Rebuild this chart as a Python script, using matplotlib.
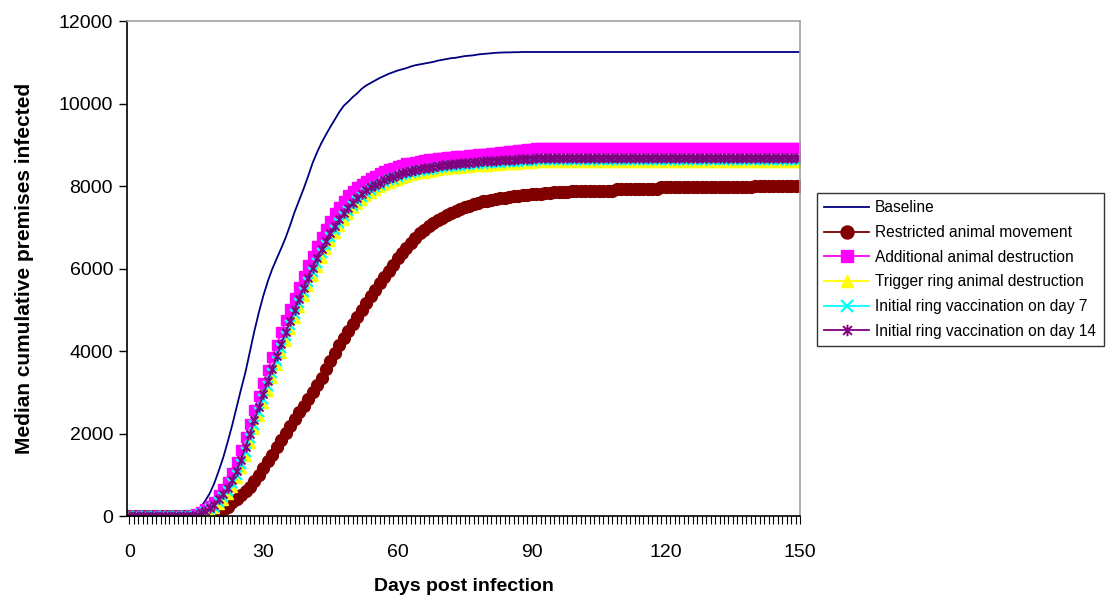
import numpy as np
import matplotlib.pyplot as plt
from matplotlib.path import Path

plt.rcParams['font.family'] = ['Liberation Sans', 'DejaVu Sans']

# daily medians, day 0 .. 150
days = list(range(151))

baseline = [0] * 15 + [
    80, 220, 380, 560, 800, 1100, 1420, 1800, 2200, 2640,
    3080, 3500, 4000, 4500, 4950, 5350, 5700, 6000, 6250, 6500,
    6760, 7060, 7380, 7660, 7940, 8240, 8560, 8820, 9050, 9250,
    9440, 9620, 9800, 9950, 10050, 10160, 10250, 10360, 10440, 10500,
    10560, 10620, 10670, 10720, 10760, 10800, 10830, 10860, 10900, 10930,
    10950, 10970, 10990, 11010, 11040, 11060, 11080, 11100, 11110, 11130,
    11150, 11160, 11170, 11190, 11200, 11210, 11220, 11230, 11235, 11240,
    11240, 11245, 11245, 11250, 11250] + [11250] * 61

restricted = [0] * 19 + [
    20, 80, 150, 240, 340, 420, 520, 620, 720, 860,
    1010, 1170, 1340, 1500, 1680, 1850, 2020, 2190, 2360, 2520,
    2680, 2850, 3020, 3180, 3360, 3560, 3760, 3960, 4150, 4330,
    4500, 4670, 4840, 5000, 5170, 5330, 5490, 5650, 5800, 5950,
    6100, 6250, 6380, 6510, 6630, 6750, 6860, 6950, 7040, 7110,
    7180, 7240, 7300, 7360, 7410, 7450, 7490, 7530, 7570, 7600,
    7640, 7650, 7670, 7690, 7705, 7720, 7735, 7750, 7760, 7775,
    7790, 7800, 7810, 7820, 7830, 7840, 7850, 7855, 7860, 7870,
    7875, 7880] + [7890] * 8 + [7930] * 10 + [7975] * 21 + [8010] * 11

additional = [0] * 15 + [
    50, 110, 180, 260, 360, 520, 660, 840, 1060, 1310,
    1600, 1920, 2250, 2580, 2910, 3230, 3550, 3860, 4160, 4460,
    4750, 5030, 5300, 5570, 5830, 6080, 6320, 6550, 6770, 6970,
    7160, 7340, 7500, 7650, 7780, 7880, 7980, 8060, 8130, 8190,
    8250, 8310, 8360, 8410, 8450, 8490, 8520, 8550, 8570, 8590,
    8610, 8630, 8650, 8665, 8680, 8690, 8700, 8710, 8720, 8730,
    8740, 8750, 8760, 8770, 8780, 8790, 8800, 8810, 8820, 8830,
    8850, 8860, 8870, 8880, 8890, 8895] + [8920] * 60

trigger = [0] * 15 + [
    10, 40, 80, 130, 200, 300, 410, 540, 720, 920,
    1170, 1460, 1780, 2110, 2430, 2740, 3050, 3360, 3660, 3960,
    4250, 4530, 4800, 5070, 5330, 5580, 5820, 6050, 6270, 6480,
    6680, 6860, 7030, 7190, 7330, 7460, 7570, 7670, 7760, 7840,
    7910, 7970, 8030, 8080, 8120, 8160, 8200, 8230, 8260, 8290,
    8310, 8330, 8350, 8370, 8390, 8405, 8420, 8430, 8440, 8450,
    8460, 8470, 8480, 8490, 8495, 8500, 8510, 8515, 8520, 8525,
    8530, 8540, 8545, 8550, 8555, 8560] + [8580] * 60

ring_day7 = [0] * 15 + [
    20, 60, 110, 170, 240, 360, 480, 610, 800, 1010,
    1270, 1570, 1890, 2220, 2540, 2850, 3160, 3470, 3770, 4070,
    4360, 4640, 4910, 5170, 5430, 5680, 5920, 6150, 6370, 6580,
    6770, 6950, 7120, 7270, 7410, 7530, 7640, 7740, 7830, 7910,
    7970, 8030, 8090, 8140, 8180, 8220, 8260, 8290, 8320, 8340,
    8360, 8380, 8400, 8420, 8440, 8455, 8470, 8480, 8490, 8500,
    8510, 8520, 8530, 8540, 8545, 8550, 8560, 8565, 8570, 8575,
    8580, 8590, 8595, 8600, 8605, 8610] + [8630] * 60

ring_day14 = [0] * 15 + [
    30, 80, 140, 200, 280, 420, 540, 680, 880, 1100,
    1370, 1680, 2000, 2330, 2650, 2960, 3270, 3580, 3880, 4180,
    4460, 4740, 5010, 5270, 5530, 5780, 6020, 6250, 6470, 6670,
    6860, 7040, 7200, 7350, 7480, 7600, 7710, 7810, 7900, 7970,
    8020, 8080, 8140, 8190, 8230, 8270, 8310, 8340, 8370, 8390,
    8410, 8430, 8450, 8470, 8490, 8505, 8520, 8530, 8540, 8550,
    8560, 8570, 8580, 8590, 8600, 8610, 8615, 8620, 8630, 8635,
    8640, 8645, 8650, 8655, 8660, 8665] + [8680] * 60

# Excel style asterisk marker: an x with a vertical bar
star = Path([(-1, -1), (1, 1), (-1, 1), (1, -1), (0, -1.3), (0, 1.3)],
            [Path.MOVETO, Path.LINETO, Path.MOVETO, Path.LINETO, Path.MOVETO, Path.LINETO])

fig = plt.figure(figsize=(11.17, 6.04), dpi=100)
ax = fig.add_axes([0.1137, 0.1449, 0.6025, 0.8203])

ax.plot(days, baseline, color='#000080', lw=1.3, label='Baseline')
ax.plot(days, restricted, color='#800000', lw=1.3, marker='o', ms=8.5,
        mec='#800000', label='Restricted animal movement')
ax.plot(days, additional, color='#ff00ff', lw=1.3, marker='s', ms=7.5,
        mec='#ff00ff', label='Additional animal destruction')
ax.plot(days, trigger, color='#ffff00', lw=1.3, marker='^', ms=7.5,
        mec='#ffff00', label='Trigger ring animal destruction')
ax.plot(days, ring_day7, color='#00ffff', lw=1.3, marker='x', ms=7.5, mew=1.6,
        label='Initial ring vaccination on day 7')
ax.plot(days, ring_day14, color='#800080', lw=1.3, marker=star, ms=7.5, mew=1.4,
        mfc='none', mec='#800080', label='Initial ring vaccination on day 14')

ax.set_xlim(-0.5, 150)
ax.set_ylim(0, 12000)
ax.set_xticks(range(0, 151, 30))
ax.set_xticks(range(0, 151), minor=True)
ax.set_yticks(range(0, 12001, 2000))
ax.tick_params(axis='both', labelsize=14, direction='out', length=6, width=1)
ax.tick_params(axis='x', which='both', length=6, width=0.8, pad=14)
ax.tick_params(axis='y', pad=4)

for s in ['left', 'bottom']:
    ax.spines[s].set_color('black')
    ax.spines[s].set_linewidth(1.2)
for s in ['top', 'right']:
    ax.spines[s].set_color('#a0a0a0')
    ax.spines[s].set_linewidth(1.2)

ax.set_xlabel('Days post infection', fontsize=14, fontweight='bold', labelpad=12)
ax.set_ylabel('Median cumulative premises infected', fontsize=15,
              fontweight='bold', labelpad=18)

leg = fig.legend(loc='upper left', bbox_to_anchor=(0.731, 0.681), fontsize=11.2,
                 frameon=True, fancybox=False, edgecolor='black',
                 handlelength=2.9, handletextpad=0.35, labelspacing=0.62,
                 borderpad=0.5, borderaxespad=0, markerscale=1.1)
leg.get_frame().set_linewidth(1)

fig.savefig('out.png', dpi=100)
